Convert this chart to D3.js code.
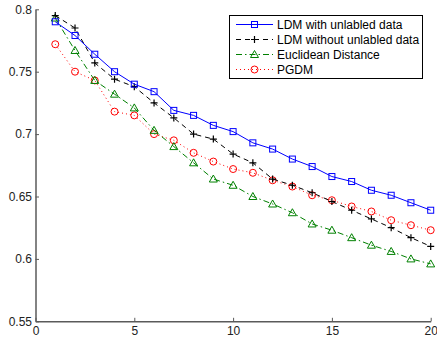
<!DOCTYPE html>
<html><head><meta charset="utf-8">
<script src="https://cdn.jsdelivr.net/npm/d3@7"></script>
<style>body{margin:0;background:#fff}svg{display:block}text{font-family:"Liberation Sans",Arial,sans-serif}</style>
</head><body><div id="c"></div>
<script>
const xs = [1,2,3,4,5,6,7,8,9,10,11,12,13,14,15,16,17,18,19,20];
const ldmWith = [0.790,0.779,0.764,0.750,0.740,0.734,0.719,0.715,0.707,0.702,0.693,0.688,0.680,0.674,0.666,0.662,0.655,0.651,0.645,0.639];
const ldmWithout = [0.795,0.785,0.757,0.744,0.738,0.725,0.713,0.700,0.696,0.684,0.677,0.664,0.659,0.653,0.646,0.639,0.632,0.625,0.617,0.610];
const euclid = [0.793,0.767,0.743,0.732,0.721,0.703,0.690,0.677,0.664,0.659,0.650,0.644,0.637,0.628,0.623,0.617,0.611,0.606,0.600,0.596];
const pgdm = [0.772,0.750,0.743,0.718,0.715,0.700,0.695,0.685,0.678,0.672,0.669,0.663,0.658,0.651,0.647,0.642,0.638,0.631,0.627,0.623];
const seriesNames = ["LDM with unlabled data","LDM without unlabled data","Euclidean Distance","PGDM"];
const xTicks = [0,5,10,15,20];
const yTicks = [0.55,0.6,0.65,0.7,0.75,0.8];

const W=437,H=338;
const svg=d3.select("#c").append("svg").attr("width",W).attr("height",H);
const x=d3.scaleLinear().domain([0,20]).range([35.5,430.7]);
const y=d3.scaleLinear().domain([0.55,0.8]).range([321.3,9.3]);

const series=[
 {name:seriesNames[0],vals:ldmWith,color:"#0000ff",dash:null,marker:"square"},
 {name:seriesNames[1],vals:ldmWithout,color:"#000000",dash:"5,4",marker:"plus"},
 {name:seriesNames[2],vals:euclid,color:"#008000",dash:"6,3,1.5,3",marker:"tri"},
 {name:seriesNames[3],vals:pgdm,color:"#ff0000",dash:"1,3",marker:"circle"}
];

function drawMarker(g,type,cx,cy,color){
  if(type==="square") g.append("rect").attr("x",cx-3).attr("y",cy-3).attr("width",6).attr("height",6).attr("fill","none").attr("stroke",color).attr("stroke-width",1);
  else if(type==="plus") g.append("path").attr("d",`M${cx-3.5},${cy}H${cx+3.5}M${cx},${cy-3.5}V${cy+3.5}`).attr("stroke",color).attr("stroke-width",1.2).attr("fill","none");
  else if(type==="tri") g.append("path").attr("d",`M${cx},${cy-4}L${cx+4},${cy+3}L${cx-4},${cy+3}Z`).attr("stroke",color).attr("fill","none").attr("stroke-width",1);
  else g.append("circle").attr("cx",cx).attr("cy",cy).attr("r",3.5).attr("fill","none").attr("stroke",color).attr("stroke-width",1);
}

const line=d3.line().x((d,i)=>x(xs[i])).y(d=>y(d));
series.slice().reverse().forEach(s=>{
  svg.append("path").datum(s.vals).attr("d",line).attr("fill","none").attr("stroke",s.color).attr("stroke-width",1).attr("stroke-dasharray",s.dash);
  const g=svg.append("g");
  s.vals.forEach((v,i)=>drawMarker(g,s.marker,x(xs[i]),y(v),s.color));
});

const axCol="#5a5a5a";
const xa=svg.append("g").attr("transform",`translate(0,${y(0.55)})`)
  .call(d3.axisBottom(x).tickValues(xTicks).tickFormat(d3.format("d")).tickSizeInner(-3.5).tickSizeOuter(0).tickPadding(5));
const ya=svg.append("g").attr("transform",`translate(${x(0)},0)`)
  .call(d3.axisLeft(y).tickValues(yTicks).tickFormat(d=>String(+d.toFixed(2))).tickSizeInner(-3.5).tickSizeOuter(0).tickPadding(3.5));
[xa,ya].forEach(a=>{
  a.select(".domain").attr("stroke",axCol).attr("stroke-width",1.5);
  a.selectAll(".tick line").attr("stroke",axCol);
  a.selectAll("text").attr("fill","#222").style("font-size","12px").style("font-family","Liberation Sans, Arial, sans-serif");
});

const lg=svg.append("g");
lg.append("rect").attr("x",229.5).attr("y",15.5).attr("width",193).attr("height",63).attr("fill","#fff").attr("stroke","#000").attr("stroke-width",1);
series.forEach((s,i)=>{
  const ly=24.5+i*15;
  lg.append("line").attr("x1",236).attr("x2",273).attr("y1",ly).attr("y2",ly).attr("stroke",s.color).attr("stroke-width",1).attr("stroke-dasharray",s.dash);
  drawMarker(lg,s.marker,254.5,ly,s.color);
  lg.append("text").attr("x",277).attr("y",ly+4.3).style("font-size","12px").attr("fill","#000").text(s.name);
});
</script></body></html>
